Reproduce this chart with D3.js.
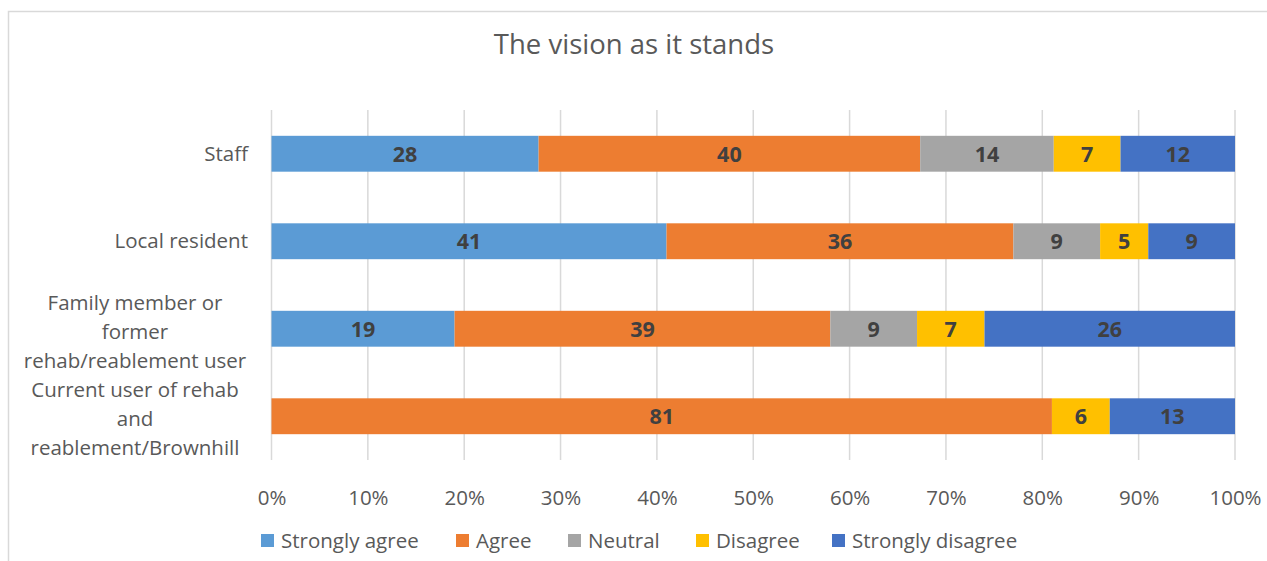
<!DOCTYPE html>
<html><head><meta charset="utf-8">
<script src="https://cdn.jsdelivr.net/npm/d3@7"></script>
<style>body{margin:0;background:#fff}svg{display:block}text{font-family:"Open Sans",sans-serif}</style>
</head><body><svg id="c" width="1267" height="561"></svg>
<script>
const categories = [
  ["Staff"],
  ["Local resident"],
  ["Family member or", "former", "rehab/reablement user"],
  ["Current user of rehab", "and", "reablement/Brownhill"]
];
const seriesNames = ["Strongly agree", "Agree", "Neutral", "Disagree", "Strongly disagree"];
const colors = ["#5B9BD5", "#ED7D31", "#A5A5A5", "#FFC000", "#4472C4"];
const stronglyAgree = [28, 41, 19, 0];
const agree = [40, 36, 39, 81];
const neutral = [14, 9, 9, 0];
const disagree = [7, 5, 7, 6];
const stronglyDisagree = [12, 9, 26, 13];
const tickValues = [0, 0.1, 0.2, 0.3, 0.4, 0.5, 0.6, 0.7, 0.8, 0.9, 1.0];
const title = "The vision as it stands";

const series = [stronglyAgree, agree, neutral, disagree, stronglyDisagree];
const svg = d3.select("#c");
const FONT = "'Open Sans',sans-serif";

// frame
svg.append("path").attr("d", "M8.5,570 L8.5,11.5 L1280,11.5")
  .attr("fill", "none").attr("stroke", "#d9d9d9").attr("stroke-width", 1.5);

const x = d3.scaleLinear().domain([0, 1]).range([271.5, 1235]);
const y = d3.scaleBand().domain(d3.range(categories.length)).range([110, 460]).paddingInner(0.59).paddingOuter(0.295);

// gridlines
svg.append("g").selectAll("line").data(tickValues).join("line")
  .attr("x1", d => x(d)).attr("x2", d => x(d)).attr("y1", 110).attr("y2", 460)
  .attr("stroke", "#d9d9d9").attr("stroke-width", 1.5);

// axis labels
const xAxis = d3.axisBottom(x).tickValues(tickValues).tickFormat(d3.format(".0%")).tickSize(0).tickPadding(0);
const ax = svg.append("g").attr("transform", "translate(0,505)").call(xAxis);
ax.select(".domain").remove();
ax.selectAll("text").attr("font-size", 20.5).attr("fill", "#595959").attr("dy", 0).attr("y", 0)
  .style("font-family", FONT);

// stacked bars
categories.forEach((c, i) => {
  const total = d3.sum(series, s => s[i]);
  let acc = 0;
  series.forEach((s, k) => {
    const v = s[i];
    if (!v) return;
    const x0 = x(acc / total), x1 = x((acc + v) / total);
    svg.append("rect").attr("x", x0).attr("y", y(i)).attr("width", x1 - x0).attr("height", y.bandwidth())
      .attr("fill", colors[k]);
    svg.append("text").attr("x", (x0 + x1) / 2).attr("y", y(i) + y.bandwidth() / 2 + 8)
      .attr("text-anchor", "middle").attr("font-size", 21.5).attr("font-weight", "bold").attr("fill", "#404040")
      .text(v);
    acc += v;
  });
});

// category labels
categories.forEach((lines, i) => {
  const cy = y(i) + y.bandwidth() / 2;
  const lh = 29;
  const multi = lines.length > 1;
  const t = svg.append("text").attr("font-size", 20.5).attr("fill", "#595959")
    .attr("text-anchor", multi ? "middle" : "end");
  lines.forEach((l, j) => {
    t.append("tspan").attr("x", multi ? 135 : 248)
      .attr("y", cy + (j - (lines.length - 1) / 2) * lh + 7 + (multi ? 3 : 0)).text(l);
  });
});

// title
svg.append("text").attr("x", 634).attr("y", 54).attr("text-anchor", "middle")
  .attr("font-size", 27.5).attr("fill", "#595959").text(title);

// legend
const legX = [261, 456, 568, 696, 832];
seriesNames.forEach((n, k) => {
  svg.append("rect").attr("x", legX[k]).attr("y", 534).attr("width", 13).attr("height", 13).attr("fill", colors[k]);
  svg.append("text").attr("x", legX[k] + 20).attr("y", 548).attr("font-size", 20.5).attr("fill", "#595959").text(n);
});
</script></body></html>
